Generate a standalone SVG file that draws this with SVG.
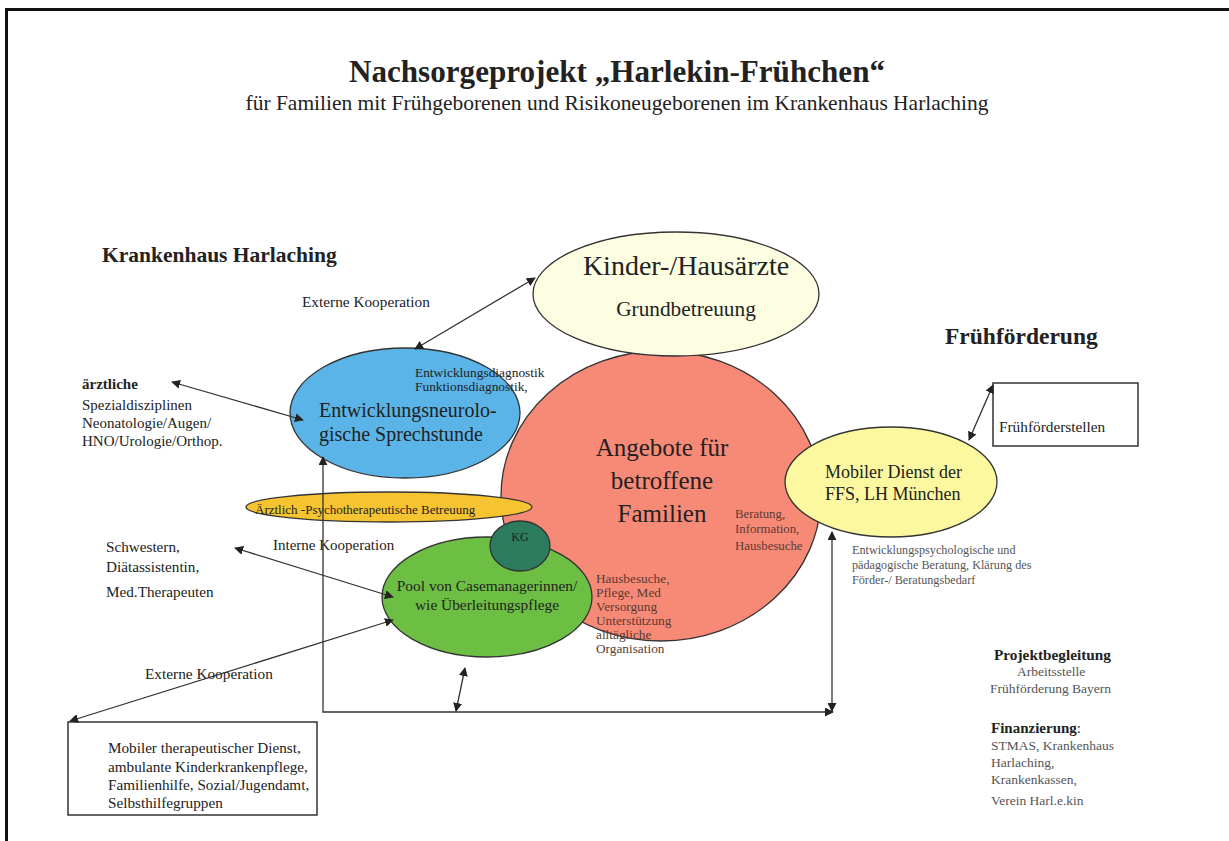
<svg xmlns="http://www.w3.org/2000/svg" width="1229" height="841" viewBox="0 0 1229 841" font-family="'Liberation Serif','Times New Roman',serif">
<defs>
<marker id="ah" viewBox="0 0 10 10" refX="9" refY="5" markerWidth="9" markerHeight="9" markerUnits="userSpaceOnUse" orient="auto-start-reverse">
<path d="M0,0 L10,5 L0,10 z" fill="#222"/>
</marker>
<style>
text{font-family:"Liberation Serif","Times New Roman",serif;fill:#222}
.b{font-weight:bold}
.c{text-anchor:middle}
.node{stroke:#333;stroke-width:1.3}
.con line,.con path{stroke:#333;stroke-width:1.3;fill:none}
.br{fill:#5a3a32}
.gr{fill:#555}
</style>
</defs>
<rect width="1229" height="841" fill="#fff"/>
<path d="M6.5,841 V9.5 H1229" fill="none" stroke="#111" stroke-width="3"/>

<g id="title">
<text x="617" y="82" class="b c" font-size="31" textLength="536" lengthAdjust="spacingAndGlyphs">Nachsorgeprojekt „Harlekin-Frühchen“</text>
<text x="617" y="110" class="c" font-size="21" textLength="743" lengthAdjust="spacingAndGlyphs">für Familien mit Frühgeborenen und Risikoneugeborenen im Krankenhaus Harlaching</text>
</g>

<g id="labels">
<text x="102" y="262" class="b" font-size="21.5">Krankenhaus Harlaching</text>
<text x="302" y="307" font-size="15.3">Externe Kooperation</text>
<text x="945" y="344" class="b" font-size="23.5">Frühförderung</text>
<text x="82" y="389" class="b" font-size="15">ärztliche</text>
<text x="82" y="410" font-size="15">Spezialdisziplinen</text>
<text x="82" y="428" font-size="15">Neonatologie/Augen/</text>
<text x="82" y="446" font-size="15">HNO/Urologie/Orthop.</text>
<text x="106" y="552" font-size="15.2">Schwestern,</text>
<text x="106" y="572" font-size="15.2">Diätassistentin,</text>
<text x="106" y="597" font-size="15.2">Med.Therapeuten</text>
<text x="273" y="550" font-size="15">Interne Kooperation</text>
<text x="145" y="679" font-size="15.3">Externe Kooperation</text>
<text x="852" y="554" font-size="12.2" class="gr">Entwicklungspsychologische und</text>
<text x="852" y="569" font-size="12.2" class="gr">pädagogische Beratung, Klärung des</text>
<text x="852" y="584" font-size="12.2" class="gr">Förder-/ Beratungsbedarf</text>
<text x="994" y="660" class="b" font-size="15.3">Projektbegleitung</text>
<text x="1017" y="676" font-size="13.5" class="gr">Arbeitsstelle</text>
<text x="990" y="693" font-size="13.5" class="gr">Frühförderung Bayern</text>
<text x="991" y="733" font-size="15"><tspan class="b">Finanzierung</tspan>:</text>
<text x="991" y="750" font-size="13.5" class="gr">STMAS, Krankenhaus</text>
<text x="991" y="767" font-size="13.5" class="gr">Harlaching,</text>
<text x="991" y="784" font-size="13.5" class="gr">Krankenkassen,</text>
<text x="991" y="805" font-size="13.5" class="gr">Verein Harl.e.kin</text>
</g>

<g id="angebote">
<ellipse cx="661" cy="496" rx="160" ry="145" fill="#f78a77" class="node"/>
<text x="662" y="456" class="c" font-size="25" fill="#3a1a14">Angebote für</text>
<text x="662" y="489" class="c" font-size="25">betroffene</text>
<text x="662" y="522" class="c" font-size="25">Familien</text>
<text x="735" y="518" font-size="12.8" class="br">Beratung,</text>
<text x="735" y="533" font-size="12.8" class="br">Information,</text>
<text x="735" y="550" font-size="12.8" class="br">Hausbesuche</text>
<text x="596" y="583" font-size="13.3" class="br">Hausbesuche,</text>
<text x="596" y="597" font-size="13.3" class="br">Pflege, Med</text>
<text x="596" y="611" font-size="13.3" class="br">Versorgung</text>
<text x="596" y="625" font-size="13.3" class="br">Unterstützung</text>
<text x="596" y="639" font-size="13.3" class="br">alltägliche</text>
<text x="596" y="653" font-size="13.3" class="br">Organisation</text>
</g>

<g id="kinderaerzte">
<ellipse cx="676" cy="294" rx="143" ry="62" fill="#fdfde2" class="node"/>
<text x="686" y="275" class="c" font-size="28">Kinder-/Hausärzte</text>
<text x="686" y="316" class="c" font-size="21.3">Grundbetreuung</text>
</g>

<g id="sprechstunde">
<ellipse cx="405" cy="413" rx="115" ry="65" fill="#5bb4e7" class="node"/>
<text x="319" y="417" font-size="20">Entwicklungsneurolo-</text>
<text x="319" y="441" font-size="20">gische Sprechstunde</text>
<text x="415" y="377" font-size="13.4" fill="#2a3f5a">Entwicklungsdiagnostik</text>
<text x="415" y="391" font-size="13.4" fill="#2a3f5a">Funktionsdiagnostik,</text>
</g>

<g id="psycho">
<ellipse cx="389" cy="507" rx="143" ry="15" fill="#f6c430" class="node"/>
<text x="255" y="514" font-size="13" fill="#333">Ärztlich -Psychotherapeutische Betreuung</text>
</g>

<g id="casemanager">
<ellipse cx="487" cy="597" rx="105" ry="60" fill="#6dbf44" class="node"/>
<text x="487" y="591" class="c" font-size="15.4">Pool von Casemanagerinnen/</text>
<text x="487" y="610" class="c" font-size="15.4">wie Überleitungspflege</text>
</g>

<g id="kg">
<ellipse cx="520" cy="546" rx="30" ry="25" fill="#2d7b5f" class="node"/>
<text x="520" y="541" class="c" font-size="12" fill="#222">KG</text>
</g>

<g id="mobiler-dienst">
<ellipse cx="891" cy="482" rx="106" ry="55" fill="#fcf8a0" class="node"/>
<text x="825" y="478" font-size="18">Mobiler Dienst der</text>
<text x="825" y="500" font-size="18">FFS, LH München</text>
</g>

<g id="fruehfoerderstellen">
<rect x="993" y="383" width="145" height="63" fill="#fff" stroke="#333" stroke-width="1.5"/>
<text x="999" y="432" font-size="15.3">Frühförderstellen</text>
</g>

<g id="extern-box">
<rect x="68" y="722" width="249" height="93" fill="#fff" stroke="#333" stroke-width="1.5"/>
<text x="108" y="753" font-size="15.2">Mobiler therapeutischer Dienst,</text>
<text x="108" y="772" font-size="15.2">ambulante Kinderkrankenpflege,</text>
<text x="108" y="790" font-size="15.2">Familienhilfe, Sozial/Jugendamt,</text>
<text x="108" y="808" font-size="15.2">Selbsthilfegruppen</text>
</g>

<g id="connectors" class="con">
<line x1="535" y1="278" x2="415" y2="349" marker-start="url(#ah)" marker-end="url(#ah)"/>
<line x1="172" y1="382" x2="303" y2="420" marker-start="url(#ah)" marker-end="url(#ah)"/>
<line x1="235" y1="548" x2="393" y2="597" marker-start="url(#ah)" marker-end="url(#ah)"/>
<line x1="393" y1="620" x2="70" y2="721" marker-start="url(#ah)" marker-end="url(#ah)"/>
<path d="M323,457 V712 H833" marker-start="url(#ah)" marker-end="url(#ah)"/>
<line x1="832" y1="532" x2="832" y2="711" marker-start="url(#ah)" marker-end="url(#ah)"/>
<line x1="465" y1="668" x2="456" y2="711" marker-start="url(#ah)" marker-end="url(#ah)"/>
<line x1="993" y1="385" x2="969" y2="440" marker-start="url(#ah)" marker-end="url(#ah)"/>
</g>
</svg>
